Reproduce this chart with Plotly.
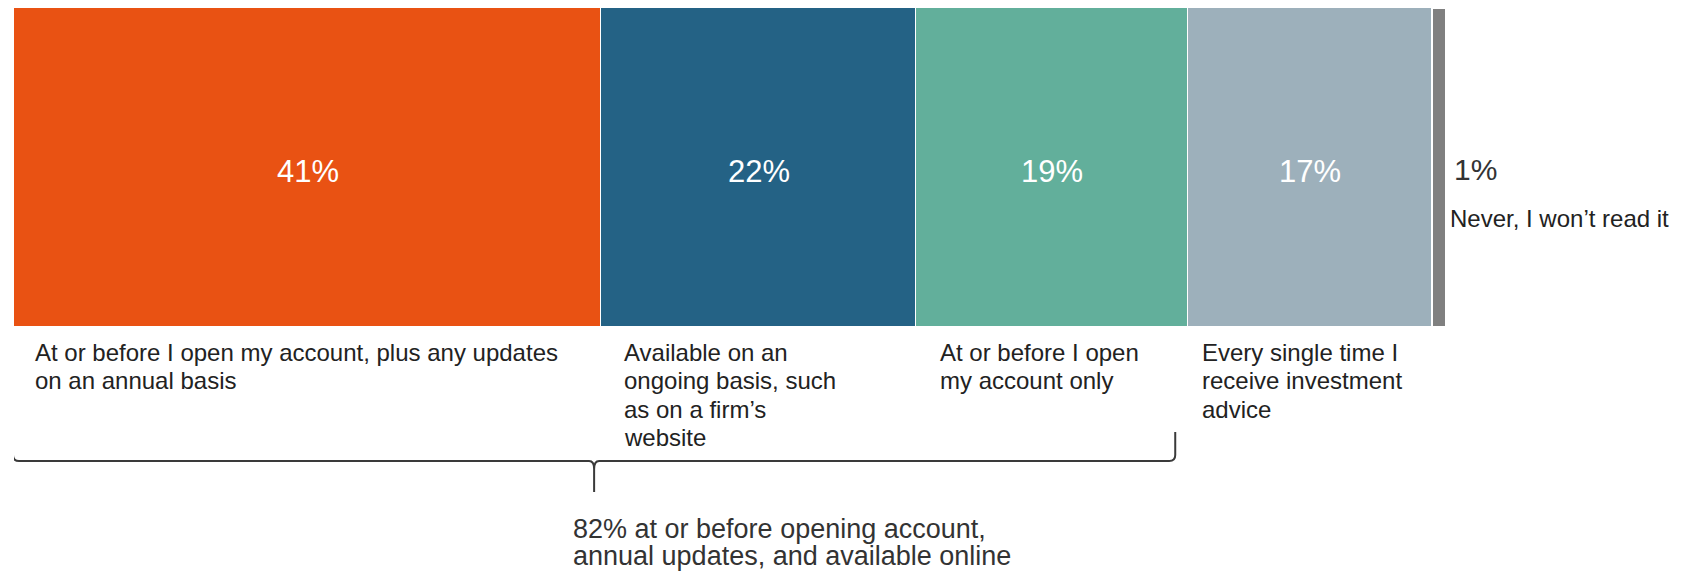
import plotly.graph_objects as go

# ---- data ----
categories = [
    "At or before I open my account, plus any updates<br>on an annual basis",
    "Available on an<br>ongoing basis, such<br>as on a firm’s<br>website",
    "At or before I open<br>my account only",
    "Every single time I<br>receive investment<br>advice",
    "Never, I won’t read it",
]
values = [41, 22, 19, 17, 1]
value_labels = ["41%", "22%", "19%", "17%", "1%"]
bracket_group = [0, 1, 2]          # segments covered by the brace
bracket_text = "82% at or before opening account,<br>annual updates, and available online"

# ---- style ----
colors = ["#E95213", "#246285", "#62AF9B", "#9DB0BB", "#808080"]
line_widths = [1, 1, 1, 1, 2]
label_xshift = [19, 21, 22, 12]
FONT = "Liberation Sans, Arial, sans-serif"
TXT = "#222222"

# page is 1686x572 with an 8px body margin
OFF = 8
W, H = 1670, 564
PLOT_L, PLOT_R, PLOT_T, PLOT_B = 14, 1446, 8, 327   # page pixels
ML, MT = PLOT_L - OFF, PLOT_T - OFF
MR = W - (PLOT_R - OFF)
MB = H - (PLOT_B - OFF)
PH = PLOT_B - PLOT_T
XMAX = 100.0
PXU = (PLOT_R - PLOT_L) / XMAX


def py(p):
    """page pixel row -> paper y"""
    return (PLOT_B - p) / PH


def text_block(text, x, xshift, center_y, spacing, size, color):
    """one annotation per line so the line spacing can be set"""
    out = []
    for k, line in enumerate(text.split("<br>")):
        out.append(dict(
            x=x, xref="x", y=py(center_y + k * spacing), yref="paper",
            xanchor="left", yanchor="middle", xshift=xshift,
            text=line, showarrow=False, align="left",
            font=dict(family=FONT, size=size, color=color),
        ))
    return out


fig = go.Figure()
starts = []
acc = 0
for i, (cat, v) in enumerate(zip(categories, values)):
    starts.append(acc)
    acc += v
    fig.add_trace(go.Bar(
        y=[""], x=[v], orientation="h", width=1,
        marker=dict(color=colors[i], line=dict(color="white", width=line_widths[i])),
        hoverinfo="skip", showlegend=False,
    ))

annotations = []
# value labels centred in the first four bars
for i in range(4):
    annotations.append(dict(
        x=starts[i] + values[i] / 2, xref="x", y=py(171), yref="paper",
        xanchor="center", yanchor="middle", text=value_labels[i], showarrow=False,
        font=dict(family=FONT, size=31, color="white"),
    ))
# category labels under the first four bars
for i in range(4):
    annotations += text_block(categories[i], starts[i], label_xshift[i],
                              352, 28.5, 24, TXT)

# last, tiny segment: labels to the right
end = starts[-1] + values[-1]
annotations.append(dict(
    x=end, xref="x", y=py(169), yref="paper", xanchor="left", yanchor="middle",
    xshift=6, text=value_labels[-1], showarrow=False,
    font=dict(family=FONT, size=30, color="#333333"),
))
annotations.append(dict(
    x=end, xref="x", y=py(218), yref="paper", xanchor="left", yanchor="middle",
    xshift=2, text=categories[-1], showarrow=False,
    font=dict(family=FONT, size=24, color=TXT),
))

# brace under the grouped segments
x0 = starts[bracket_group[0]] - 1 / PXU
x1 = starts[bracket_group[-1]] + values[bracket_group[-1]] - 13 / PXU
xm = (x0 + x1) / 2
yt, yh, yb = py(432), py(461), py(492)
rx, ry = 6 / PXU, 6 / PH
rx2, ry2 = 5 / PXU, 8 / PH
path = (
    f"M {x0},{yt} L {x0},{yh + ry} Q {x0},{yh} {x0 + rx},{yh} "
    f"L {xm - rx2},{yh} Q {xm},{yh} {xm},{yh - ry2} L {xm},{yb} "
    f"M {xm},{yh - ry2} Q {xm},{yh} {xm + rx2},{yh} "
    f"L {x1 - rx},{yh} Q {x1},{yh} {x1},{yh + ry} L {x1},{yt}"
)
shapes = [dict(type="path", xref="x", yref="paper", path=path,
               line=dict(color="#3a3a3a", width=2))]

annotations += text_block(bracket_text, xm, -23, 529, 27, 27, "#333333")

fig.update_layout(
    width=W, height=H, barmode="stack",
    margin=dict(l=ML, r=MR, t=MT, b=MB, pad=0),
    paper_bgcolor="white", plot_bgcolor="white",
    xaxis=dict(range=[0, XMAX], visible=False, fixedrange=True),
    yaxis=dict(range=[-0.5, 0.5], visible=False, fixedrange=True),
    annotations=annotations, shapes=shapes, bargap=0,
)

fig.write_html("out.html")
